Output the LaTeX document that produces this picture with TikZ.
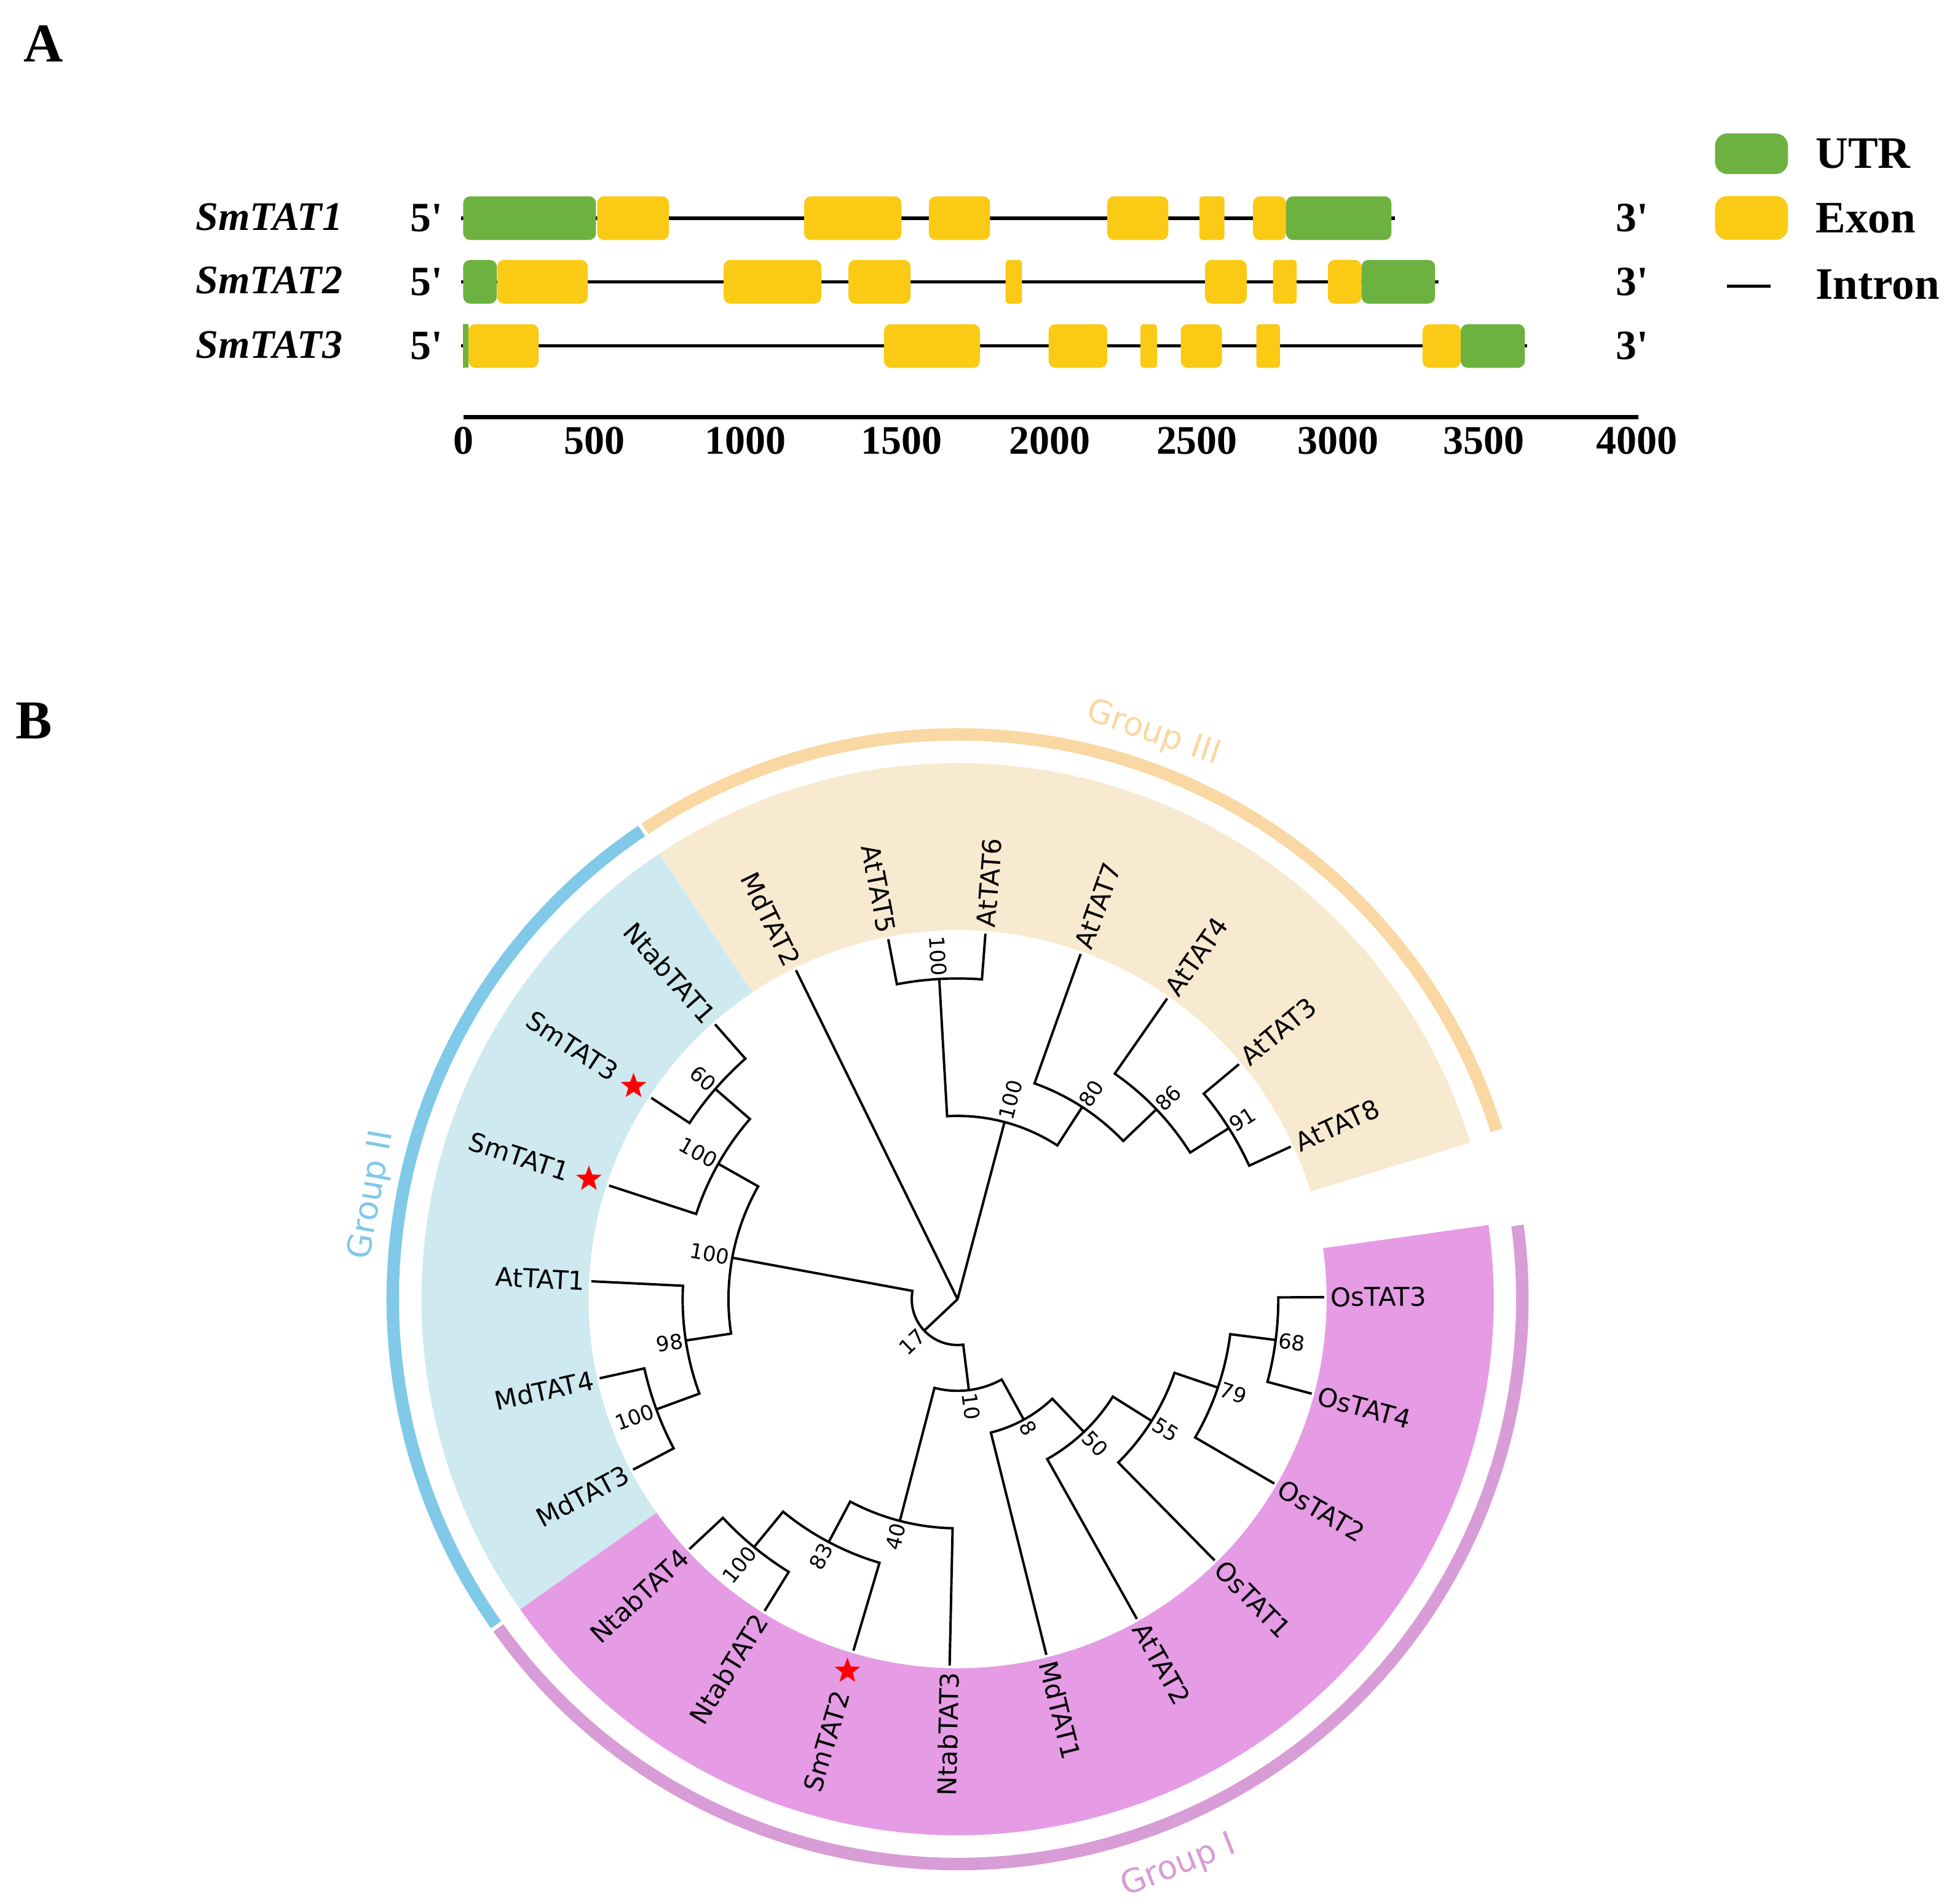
\documentclass[tikz,border=0pt]{standalone}
\usepackage{fontspec}
\setmainfont{Liberation Serif}
\newfontfamily\treefont{DejaVu Sans}
\usetikzlibrary{shapes.geometric}
\definecolor{utrgreen}{RGB}{109,178,64}
\definecolor{exonyellow}{RGB}{250,202,20}
\definecolor{beigesec}{RGB}{248,234,209}
\definecolor{bluesec}{RGB}{206,233,240}
\definecolor{pinksec}{RGB}{229,156,229}
\definecolor{orangering}{RGB}{250,216,163}
\definecolor{bluering}{RGB}{128,201,232}
\definecolor{pinkring}{RGB}{216,156,214}
\begin{document}
\begin{tikzpicture}[x=0.2mm,y=0.2mm,
  utrbox/.style={fill=utrgreen, rounded corners=1.1mm},
  exonbox/.style={fill=exonyellow, rounded corners=1.1mm},
  thinbox/.style={fill=exonyellow, rounded corners=0.5mm},
  intron/.style={line width=1.5pt},
  gname/.style={font=\bfseries\itshape\fontsize{18.5}{20}\selectfont},
  prime/.style={font=\bfseries\fontsize{19}{21}\selectfont},
  tick/.style={font=\bfseries\fontsize{18.5}{20}\selectfont},
  legtext/.style={font=\bfseries\fontsize{20.5}{22}\selectfont, anchor=west},
  panel/.style={font=\bfseries\fontsize{25}{28}\selectfont},
  br/.style={line width=1.1pt, line join=miter},
  lblR/.style={anchor=west, rotate=#1, inner sep=0pt, font=\treefont\fontsize{11.8}{13}\selectfont},
  lblL/.style={anchor=east, rotate=#1-180, inner sep=0pt, font=\treefont\fontsize{11.8}{13}\selectfont},
  bsR/.style={anchor=west, rotate=#1, inner sep=1.2pt, font=\treefont\fontsize{9.5}{10}\selectfont},
  bsL/.style={anchor=east, rotate=#1-180, inner sep=1.2pt, font=\treefont\fontsize{9.5}{10}\selectfont},
  ring/.style={line width=2mm},
  grp/.style={font=\treefont\fontsize{15}{17}\selectfont},
  redstar/.style={star, star points=5, star point ratio=2.4, fill=red, minimum size=4.3mm, inner sep=0pt}
]
\useasboundingbox (0,0) rectangle (1568,1527);

% ---------------- Panel A ----------------
\node[panel] (lblA) at (35,1492) {A};
\node[panel] (lblB) at (27,949) {B};

\node[gname] (name1) at (216,1353) {SmTAT1};
\node[gname] (name2) at (216,1302) {SmTAT2};
\node[gname] (name3) at (216,1250.5) {SmTAT3};
\node[prime] (f1) at (342,1352) {5\textquotesingle};
\node[prime] (f2) at (342,1301) {5\textquotesingle};
\node[prime] (f3) at (342,1249.5) {5\textquotesingle};
\node[prime] (e1) at (1309,1352) {3\textquotesingle};
\node[prime] (e2) at (1309,1301) {3\textquotesingle};
\node[prime] (e3) at (1309,1249.5) {3\textquotesingle};

% introns
\draw[intron] (370,1352) -- (1119,1352);
\draw[intron] (370,1301) -- (1154,1301);
\draw[intron] (370,1249.5) -- (1225,1249.5);

% row 1
\fill[utrbox] (371.5,1334.5) rectangle (478,1369.5);
\fill[exonbox] (479,1334.5) rectangle (536.5,1369.5);
\fill[exonbox] (645,1334.5) rectangle (723,1369.5);
\fill[exonbox] (745,1334.5) rectangle (794,1369.5);
\fill[exonbox] (888,1334.5) rectangle (937,1369.5);
\fill[thinbox] (962,1334.5) rectangle (982,1369.5);
\fill[exonbox] (1005,1334.5) rectangle (1031.5,1369.5);
\fill[utrbox] (1031.5,1334.5) rectangle (1116,1369.5);
% row 2
\fill[utrbox] (371.5,1283.5) rectangle (398.5,1318.5);
\fill[exonbox] (398.7,1283.5) rectangle (471.4,1318.5);
\fill[exonbox] (580.4,1283.5) rectangle (658.8,1318.5);
\fill[exonbox] (680.5,1283.5) rectangle (730.3,1318.5);
\fill[thinbox] (806.5,1283.5) rectangle (819.7,1318.5);
\fill[exonbox] (966.5,1283.5) rectangle (1000,1318.5);
\fill[thinbox] (1021,1283.5) rectangle (1040,1318.5);
\fill[exonbox] (1065,1283.5) rectangle (1092,1318.5);
\fill[utrbox] (1092,1283.5) rectangle (1151,1318.5);
% row 3
\fill[fill=utrgreen] (371.3,1232) rectangle (375.7,1267);
\fill[exonbox] (375.7,1232) rectangle (432,1267);
\fill[exonbox] (709,1232) rectangle (786,1267);
\fill[exonbox] (841,1232) rectangle (888,1267);
\fill[thinbox] (914.7,1232) rectangle (928,1267);
\fill[exonbox] (947,1232) rectangle (980,1267);
\fill[thinbox] (1007.6,1232) rectangle (1026.6,1267);
\fill[exonbox] (1140.9,1232) rectangle (1171.6,1267);
\fill[utrbox] (1171.6,1232) rectangle (1223,1267);

% axis
\draw[line width=1.8pt] (372,1192.4) -- (1314,1192.4);
\node[tick] (k0) at (372,1173.5) {0};
\node[tick] (k1) at (477,1173.5) {500};
\node[tick] (k2) at (598,1173.5) {1000};
\node[tick] (k3) at (723,1173.5) {1500};
\node[tick] (k4) at (842,1173.5) {2000};
\node[tick] (k5) at (960,1173.5) {2500};
\node[tick] (k6) at (1073,1173.5) {3000};
\node[tick] (k7) at (1190,1173.5) {3500};
\node[tick] (k8) at (1313,1173.5) {4000};

% legend
\fill[utrbox, rounded corners=2mm] (1375.5,1387.4) rectangle (1434,1420);
\fill[exonbox, rounded corners=2mm] (1375.5,1334.6) rectangle (1434,1369.8);
\draw[line width=1.4pt] (1385,1297.5) -- (1420,1297.5);
\node[legtext] (legU) at (1450,1404) {UTR};
\node[legtext] (legE) at (1450,1352) {Exon};
\node[legtext] (legI) at (1450,1298.5) {Intron};

% ---------------- Panel B ----------------
\begin{scope}[shift={(768,485)}]
% shaded sectors
\fill[beigesec] (16.97:296) arc[start angle=16.97,end angle=123.79,radius=296] -- (123.79:430) arc[start angle=123.79,end angle=16.97,radius=430] -- cycle;
\fill[bluesec] (123.79:296) arc[start angle=123.79,end angle=215.35,radius=296] -- (215.35:430) arc[start angle=215.35,end angle=123.79,radius=430] -- cycle;
\fill[pinksec] (215.35:296) arc[start angle=215.35,end angle=367.95,radius=296] -- (367.95:430) arc[start angle=367.95,end angle=215.35,radius=430] -- cycle;
% group rings
\draw[ring, orangering] (17.4:453) arc[start angle=17.4,end angle=123.6,radius=453];
\draw[ring, bluering] (124.0:453) arc[start angle=124.0,end angle=215.2,radius=453];
\draw[ring, pinkring] (215.6:453) arc[start angle=215.6,end angle=367.5,radius=453];
\node[grp, text=orangering, rotate=-19.1] (grpIII) at (70.9:480) {Group III};
\node[grp, text=bluering, rotate=79.9] (grpII) at (169.9:477) {Group II};
\node[grp, text=pinkring, rotate=21.3] (grpI) at (291.3:488) {Group I};

% leaf tips
\coordinate (root) at (0,0);
\coordinate (t0) at (24.6:294);
\coordinate (t1) at (39.86:294);
\coordinate (t2) at (55.12:294);
\coordinate (t3) at (70.38:294);
\coordinate (t4) at (85.64:294);
\coordinate (t5) at (100.9:294);
\coordinate (t6) at (116.16:294);
\coordinate (t7) at (131.42:294);
\coordinate (t8) at (146.68:294);
\coordinate (t9) at (161.94:294);
\coordinate (t10) at (177.2:294);
\coordinate (t11) at (192.46:294);
\coordinate (t12) at (207.72:294);
\coordinate (t13) at (222.98:294);
\coordinate (t14) at (238.24:294);
\coordinate (t15) at (253.5:294);
\coordinate (t16) at (268.76:294);
\coordinate (t17) at (284.02:294);
\coordinate (t18) at (299.28:294);
\coordinate (t19) at (314.54:294);
\coordinate (t20) at (329.8:294);
\coordinate (t21) at (345.06:294);
\coordinate (t22) at (360.32:294);
% internal nodes
\coordinate (n91) at (32.23:257.25);
\coordinate (n86) at (43.675:220.5);
\coordinate (n80) at (57.0275:183.75);
\coordinate (n100c) at (93.27:257.25);
\coordinate (n100d) at (75.15:147);
\coordinate (n60) at (139.05:257.25);
\coordinate (n100a) at (150.495:220.5);
\coordinate (n100b) at (200.09:257.25);
\coordinate (n98) at (188.645:220.5);
\coordinate (nG2) at (169.57:183.75);
\coordinate (n100e) at (230.61:257.25);
\coordinate (n83) at (242.055:220.5);
\coordinate (n40) at (255.4075:183.75);
\coordinate (n68) at (352.69:257.25);
\coordinate (n79) at (341.245:220.5);
\coordinate (n55) at (327.8925:183.75);
\coordinate (n50) at (313.586:147);
\coordinate (n8) at (298.803:110.25);
\coordinate (n10) at (277.105:73.5);
\coordinate (n17) at (223.3375:36.75);

% branches
\draw[br] (t0) -- (24.6:257.25) arc[start angle=24.6,end angle=39.86,radius=257.25] -- (t1);
\draw[br] (n91) -- (32.23:220.5) arc[start angle=32.23,end angle=55.12,radius=220.5] -- (t2);
\draw[br] (n86) -- (43.675:183.75) arc[start angle=43.675,end angle=70.38,radius=183.75] -- (t3);
\draw[br] (t4) -- (85.64:257.25) arc[start angle=85.64,end angle=100.9,radius=257.25] -- (t5);
\draw[br] (n80) -- (57.0275:147) arc[start angle=57.0275,end angle=93.27,radius=147] -- (n100c);
\draw[br] (root) -- (t6);
\draw[br] (root) -- (n100d);
\draw[br] (root) -- (n17);
\draw[br] (t7) -- (131.42:257.25) arc[start angle=131.42,end angle=146.68,radius=257.25] -- (t8);
\draw[br] (n60) -- (139.05:220.5) arc[start angle=139.05,end angle=161.94,radius=220.5] -- (t9);
\draw[br] (t11) -- (192.46:257.25) arc[start angle=192.46,end angle=207.72,radius=257.25] -- (t12);
\draw[br] (t10) -- (177.2:220.5) arc[start angle=177.2,end angle=200.09,radius=220.5] -- (n100b);
\draw[br] (n100a) -- (150.495:183.75) arc[start angle=150.495,end angle=188.645,radius=183.75] -- (n98);
\draw[br] (t13) -- (222.98:257.25) arc[start angle=222.98,end angle=238.24,radius=257.25] -- (t14);
\draw[br] (n100e) -- (230.61:220.5) arc[start angle=230.61,end angle=253.5,radius=220.5] -- (t15);
\draw[br] (n83) -- (242.055:183.75) arc[start angle=242.055,end angle=268.76,radius=183.75] -- (t16);
\draw[br] (t21) -- (345.06:257.25) arc[start angle=345.06,end angle=360.32,radius=257.25] -- (t22);
\draw[br] (t20) -- (329.8:220.5) arc[start angle=329.8,end angle=352.69,radius=220.5] -- (n68);
\draw[br] (t19) -- (314.54:183.75) arc[start angle=314.54,end angle=341.245,radius=183.75] -- (n79);
\draw[br] (t18) -- (299.28:147) arc[start angle=299.28,end angle=327.8925,radius=147] -- (n55);
\draw[br] (t17) -- (284.02:110.25) arc[start angle=284.02,end angle=313.586,radius=110.25] -- (n50);
\draw[br] (n40) -- (255.4075:73.5) arc[start angle=255.4075,end angle=298.803,radius=73.5] -- (n8);
\draw[br] (nG2) -- (169.57:36.75) arc[start angle=169.57,end angle=277.105,radius=36.75] -- (n10);

% bootstrap values
\node[bsR=32.23] (b91) at (n91) {91};
\node[bsR=43.675] (b86) at (n86) {86};
\node[bsR=57.0275] (b80) at (n80) {80};
\node[bsL=93.27] (b100c) at (n100c) {100};
\node[bsR=75.15] (b100d) at (n100d) {100};
\node[bsL=139.05] (b60) at (n60) {60};
\node[bsL=150.495] (b100a) at (n100a) {100};
\node[bsL=200.09] (b100b) at (n100b) {100};
\node[bsL=188.645] (b98) at (n98) {98};
\node[bsL=169.57] (bG2) at (nG2) {100};
\node[bsL=230.61] (b100e) at (n100e) {100};
\node[bsL=242.055] (b83) at (n83) {83};
\node[bsL=255.4075] (b40) at (n40) {40};
\node[bsL=223.3375] (b17) at (n17) {17};
\node[bsR=277.105] (b10) at (n10) {10};
\node[bsR=298.803] (b8) at (n8) {8};
\node[bsR=313.586] (b50) at (n50) {50};
\node[bsR=327.8925] (b55) at (n55) {55};
\node[bsR=341.245] (b79) at (n79) {79};
\node[bsR=352.69] (b68) at (n68) {68};

% leaf labels
\node[lblR=24.6] (L0) at (24.6:299) {AtTAT8};
\node[lblR=39.86] (L1) at (39.86:299) {AtTAT3};
\node[lblR=55.12] (L2) at (55.12:299) {AtTAT4};
\node[lblR=70.38] (L3) at (70.38:299) {AtTAT7};
\node[lblR=85.64] (L4) at (85.64:299) {AtTAT6};
\node[lblL=100.9] (L5) at (100.9:299) {AtTAT5};
\node[lblL=116.16] (L6) at (116.16:299) {MdTAT2};
\node[lblL=131.42] (L7) at (131.42:299) {NtabTAT1};
\node[lblL=146.68] (L8) at (146.68:328) {SmTAT3};
\node[lblL=161.94] (L9) at (161.94:328) {SmTAT1};
\node[lblL=177.2] (L10) at (177.2:299) {AtTAT1};
\node[lblL=192.46] (L11) at (192.46:299) {MdTAT4};
\node[lblL=207.72] (L12) at (207.72:299) {MdTAT3};
\node[lblL=222.98] (L13) at (222.98:299) {NtabTAT4};
\node[lblL=238.24] (L14) at (238.24:299) {NtabTAT2};
\node[lblL=253.5] (L15) at (253.5:328) {SmTAT2};
\node[lblL=268.76] (L16) at (268.76:299) {NtabTAT3};
\node[lblR=284.02] (L17) at (284.02:299) {MdTAT1};
\node[lblR=299.28] (L18) at (299.28:299) {AtTAT2};
\node[lblR=314.54] (L19) at (314.54:299) {OsTAT1};
\node[lblR=329.8] (L20) at (329.8:299) {OsTAT2};
\node[lblR=345.06] (L21) at (345.06:299) {OsTAT4};
\node[lblR=360.32] (L22) at (360.32:299) {OsTAT3};

% stars
\node[redstar] (s3) at (146.68:311) {};
\node[redstar] (s1) at (161.94:311) {};
\node[redstar] (s2) at (253.5:311) {};
\end{scope}
\end{tikzpicture}
\end{document}
